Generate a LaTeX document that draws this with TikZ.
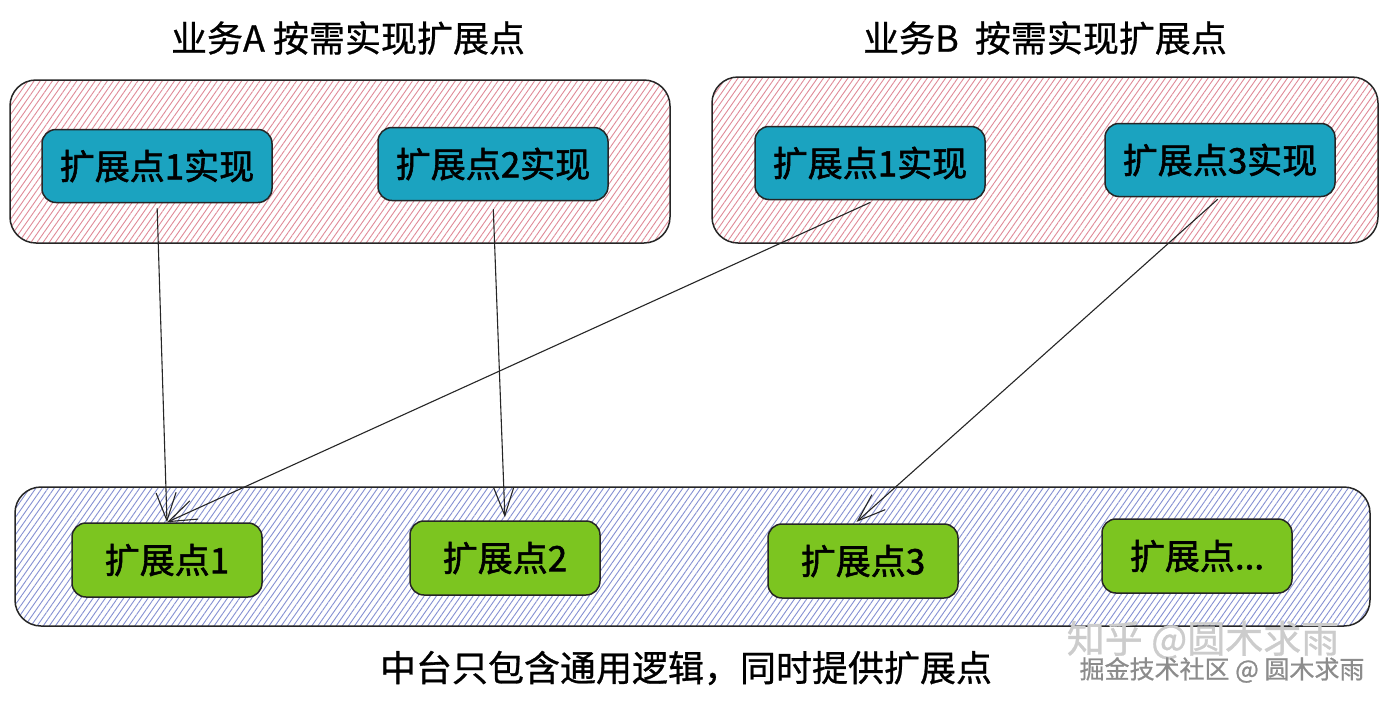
\documentclass[tikz,border=0pt]{standalone}
\usepackage{fontspec}
\newfontfamily\cjk{Noto Sans CJK SC}[FakeBold=0.8]
\newfontfamily\cjkheavy{Noto Sans CJK SC}[FakeBold=1.6]
\usetikzlibrary{arrows.meta,patterns.meta}

\definecolor{hatchred}{HTML}{E08A98}
\definecolor{hatchblue}{HTML}{8590D2}
\definecolor{implteal}{HTML}{1BA3C0}
\definecolor{extgreen}{HTML}{7CC520}

\tikzset{
  bizbox/.style={draw=black!85, line width=1.5pt, rounded corners=26pt, fill=red!4,
    pattern={Lines[angle=55,distance=5pt,line width=0.9pt]}, pattern color=hatchred},
  corebox/.style={draw=black!85, line width=1.5pt, rounded corners=26pt, fill=blue!4,
    pattern={Lines[angle=55,distance=5pt,line width=0.9pt]}, pattern color=hatchblue},
  impl/.style={draw=black!85, line width=1.5pt, rounded corners=14pt, fill=implteal,
    minimum width=230pt, minimum height=73pt, font=\cjkheavy\fontsize{35}{40}\selectfont},
  ext/.style={draw=black!85, line width=1.5pt, rounded corners=14pt, fill=extgreen,
    minimum width=190pt, minimum height=74pt, font=\cjkheavy\fontsize{35}{40}\selectfont},
  caption/.style={font=\cjk\fontsize{36}{40}\selectfont},
  link/.style={draw=black!85, line width=1.1pt, -{Straight Barb[length=28pt,width=20pt,line width=1.1pt]}}
}

\begin{document}
\begin{tikzpicture}[x=1pt,y=-1pt]
\useasboundingbox[fill=white] (0,0) rectangle (1387,705);

% Containers
\node (bizA) [bizbox, minimum width=660pt, minimum height=163pt] at (340,161.5) {};
\node (bizB) [bizbox, minimum width=666pt, minimum height=166pt] at (1045,160) {};
\node (core) [corebox, minimum width=1355pt, minimum height=139pt] at (692.5,556.5) {};

% Titles
\node (titleA) [caption] at (348,38) {业务A 按需实现扩展点};
\node (titleB) [caption] at (1045,38) {业务B\ \ 按需实现扩展点};
\node (titleCore) [caption] at (686,668) {中台只包含通用逻辑，同时提供扩展点};

% Implementations
\node (a1) [impl] at (157,166) {扩展点1实现};
\node (a2) [impl] at (493,164) {扩展点2实现};
\node (b1) [impl] at (870,163) {扩展点1实现};
\node (b3) [impl] at (1220,160) {扩展点3实现};

% Extension points
\node (e1) [ext] at (167,560) {扩展点1};
\node (e2) [ext] at (505,558) {扩展点2};
\node (e3) [ext] at (863,561) {扩展点3};
\node (e4) [ext] at (1197,556) {扩展点...};

% Links
\draw [link, shorten <=5pt] (a1.south) -- (e1.north);
\draw [link, shorten <=8pt, shorten >=3pt] (a2.south) -- (e2.north);
\draw [link, shorten <=5pt] ([xshift=5pt]b1.south) -- (e1.north);
\draw [link, shorten <=3pt, shorten >=2pt] (b3.south) -- ([xshift=-8pt]e3.north);

% Watermark
\node (markA) [font=\cjk\fontsize{38}{42}\selectfont, text=black!20] at (1203,640) {知乎 @圆木求雨};
\node (markB) [font=\cjk\fontsize{25}{28}\selectfont, text=black!45] at (1222,670) {掘金技术社区 @ 圆木求雨};

\end{tikzpicture}
\end{document}
